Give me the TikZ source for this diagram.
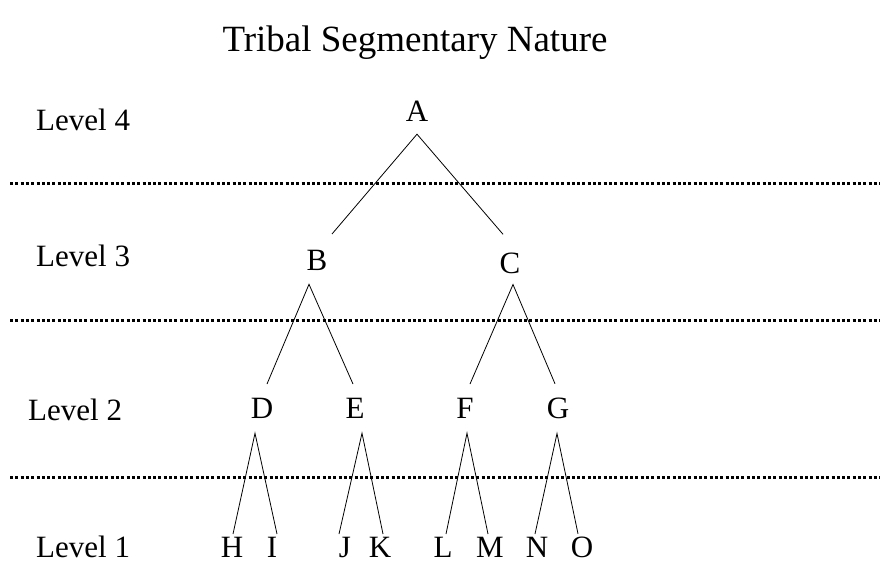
\documentclass[tikz,border=0pt]{standalone}
\usepackage{fontspec}
\setmainfont{Liberation Serif}
\usetikzlibrary{calc}

\begin{document}
\begin{tikzpicture}[x=1pt, y=1pt, every node/.style={font=\fontsize{31}{36}\selectfont, inner sep=0pt, anchor=base}]
			\useasboundingbox (0,0) rectangle (880,563);
			\tikzset{level line/.style={line width=3pt, dash pattern=on 3pt off 2.3pt},
				branch/.style={line width=0.8pt}}
			
			\node[font=\fontsize{37}{44}\selectfont] (title) at (415,511) {Tribal Segmentary Nature};
			
			\node[anchor=base west] (lv4) at (36,432) {Level 4};
			\node[anchor=base west] (lv3) at (36,297) {Level 3};
			\node[anchor=base west] (lv2) at (28,143) {Level 2};
			\node[anchor=base west] (lv1) at (36,6) {Level 1};
			
			\draw[level line] (10,379) -- (880,379);
			\draw[level line] (10,243) -- (880,243);
			\draw[level line] (10,86) -- (880,86);
			
			\node (A) at (417,441) {A};
			\node (B) at (317,293) {B};
			\node (C) at (510,290) {C};
			\node (D) at (262,145) {D};
			\node (E) at (355,145) {E};
			\node (F) at (465,145) {F};
			\node (G) at (558,145) {G};
			\node (H) at (232,6) {H};
			\node (I) at (272,6) {I};
			\node (J) at (345,6) {J};
			\node (K) at (380,6) {K};
			\node (L) at (443,6) {L};
			\node (M) at (490,6) {M};
			\node (N) at (537,6) {N};
			\node (O) at (582,6) {O};
			
			\draw[branch] ([xshift=15,yshift=15.5]B.north) -- ([yshift=-12]A.south) -- ([xshift=-7,yshift=18]C.north);
			\draw[branch] ([xshift=5,yshift=13.5]D.north) -- ([xshift=-8,yshift=-14]B.south) -- ([xshift=-2,yshift=13.5]E.north);
			\draw[branch] ([xshift=5,yshift=13.5]F.north) -- ([xshift=3,yshift=-11]C.south) -- ([xshift=-3,yshift=13.5]G.north);
			\draw[branch] ([xshift=1,yshift=2.5]H.north) -- ([xshift=-7,yshift=-15]D.south) -- ([xshift=5,yshift=2.5]I.north);
			\draw[branch] ([xshift=-6,yshift=2.5]J.north) -- ([xshift=7,yshift=-15]E.south) -- ([xshift=3,yshift=2.5]K.north);
			\draw[branch] ([xshift=3,yshift=2.5]L.north) -- ([xshift=2,yshift=-15]F.south) -- ([xshift=-2,yshift=2.5]M.north);
			\draw[branch] ([xshift=-2,yshift=2.5]N.north) -- ([xshift=-1,yshift=-15]G.south) -- ([xshift=-4,yshift=2.5]O.north);
		\end{tikzpicture}
\end{document}
